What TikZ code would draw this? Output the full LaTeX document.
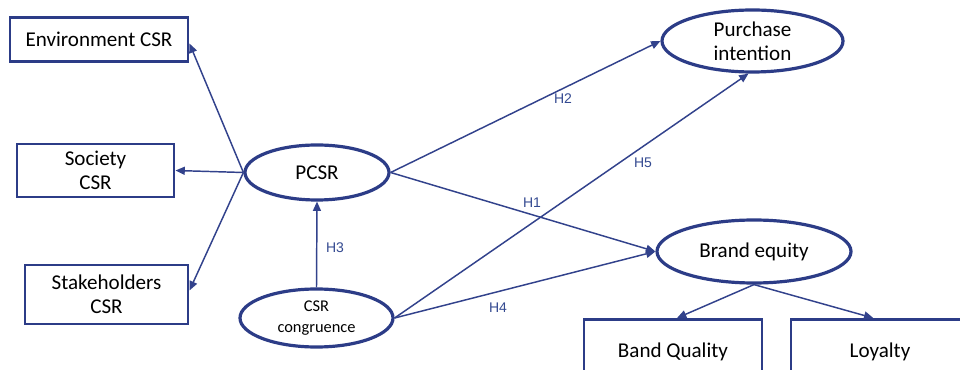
\documentclass[tikz,border=0pt]{standalone}
\usepackage{fontspec}
\setmainfont{Carlito}
\newfontfamily\labfont{Liberation Sans}
\usetikzlibrary{shapes.geometric,arrows.meta}
\definecolor{navy}{RGB}{44,60,135}
\definecolor{linec}{RGB}{50,66,140}
\definecolor{labc}{RGB}{52,74,145}
\tikzset{
  boxn/.style={draw=navy, line width=2.2pt, rectangle, inner sep=0pt, align=center, text=black, font=\fontsize{15.8}{18}\selectfont},
  ell/.style={draw=navy, line width=2.4pt, ellipse, inner sep=0pt, align=center, text=black, font=\fontsize{15.8}{18}\selectfont},
  conn/.style={draw=linec, line width=1.1pt, -{Triangle[length=7pt,width=6pt]}},
  hlab/.style={text=labc, font=\labfont\fontsize{10.5}{12}\selectfont, inner sep=0pt}
}
\begin{document}
\begin{tikzpicture}[x=0.75pt,y=-0.75pt]
\useasboundingbox (0,0) rectangle (960,370);
\clip (0,0) rectangle (960,370);
\fill[white] (0,0) rectangle (960,370);
% boxes
\node[boxn, minimum width=133.5pt, minimum height=33pt] (env) at (99,39.5) {Environment CSR};
\node[boxn, minimum width=117.75pt, minimum height=39.75pt] (soc) at (95.5,170.5) {Society\\CSR};
\node[boxn, minimum width=122.25pt, minimum height=44.25pt] (stk) at (106.5,294.5) {Stakeholders\\CSR};
\node[boxn, minimum width=133.5pt, minimum height=45pt] (bq) at (673,349.5) {};
\node[font=\fontsize{15.8}{18}\selectfont, anchor=base] (bqt) at (673,357) {Band Quality};
\node[boxn, minimum width=133.5pt, minimum height=45pt] (loy) at (880,349.5) {};
\node[font=\fontsize{15.8}{18}\selectfont, anchor=base] (loyt) at (880,357) {Loyalty};
% ellipses
\node[ell, minimum width=108pt, minimum height=41.25pt] (pcsr) at (317,172.5) {PCSR};
\node[ell, minimum width=114.75pt, minimum height=43.5pt, font=\fontsize{12.3}{15.5}\selectfont] (cong) at (316.5,318) {CSR\\congruence};
\node[ell, minimum width=135.75pt, minimum height=46.5pt] (pi) at (752.5,41) {Purchase\\intention};
\node[ell, minimum width=145.5pt, minimum height=47.25pt] (be) at (754,251.5) {Brand equity};
% connectors
\draw[conn] (pcsr.west) -- ([yshift=-3pt]env.east);
\draw[conn] (pcsr.west) -- (soc.east);
\draw[conn] (pcsr.west) -- ([yshift=3pt]stk.east);
\draw[conn] (cong.north) -- (pcsr.south);
\draw[conn] (pcsr.east) -- (pi.west);
\draw[conn] (pcsr.east) -- (be.west);
\draw[conn] (cong.east) -- ([xshift=-3pt]pi.south);
\draw[conn] (cong.east) -- (be.west);
\draw[conn] (be.south) -- ([xshift=3pt]bq.north);
\draw[conn] (be.south) -- ([xshift=-5pt]loy.north);
% labels
\node[hlab] (h1) at (532,203) {H1};
\node[hlab] (h2) at (563,99) {H2};
\node[hlab] (h3) at (335,248) {H3};
\node[hlab] (h4) at (498,308) {H4};
\node[hlab] (h5) at (643,163) {H5};
\end{tikzpicture}
\end{document}
